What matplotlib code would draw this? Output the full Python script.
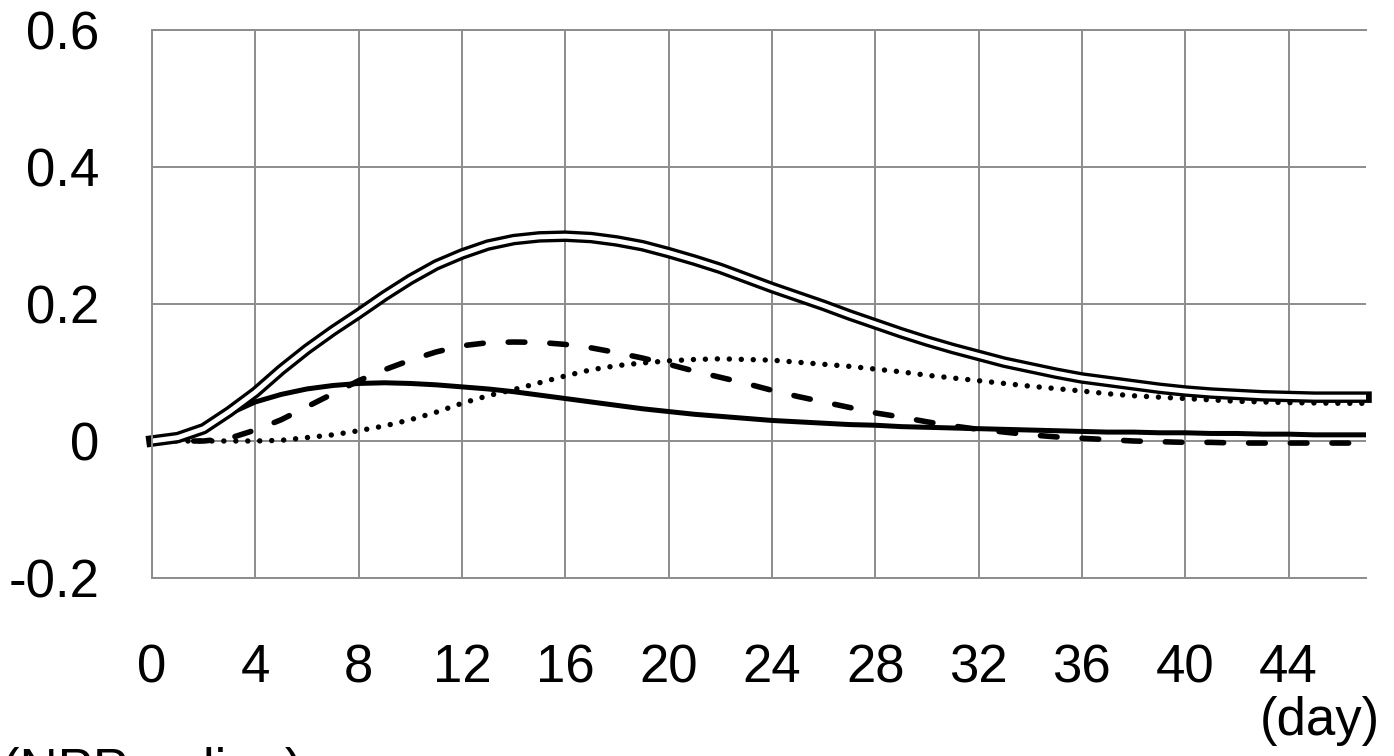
import matplotlib
matplotlib.use("Agg")
import matplotlib.pyplot as plt
import numpy as np

plt.rcParams['font.family'] = ['Liberation Sans', 'DejaVu Sans']

days = list(range(48))

npp_double = [0.000, 0.005, 0.018, 0.043, 0.071, 0.104, 0.134, 0.161, 0.186, 0.212,
              0.236, 0.257, 0.273, 0.286, 0.294, 0.298, 0.299, 0.297, 0.292, 0.285,
              0.275, 0.264, 0.252, 0.238, 0.224, 0.211, 0.198, 0.184, 0.171, 0.158,
              0.146, 0.135, 0.125, 0.115, 0.107, 0.099, 0.092, 0.087, 0.082, 0.077,
              0.073, 0.070, 0.068, 0.066, 0.065, 0.064, 0.064, 0.064]

solid = [-0.003, 0.004, 0.019, 0.040, 0.057, 0.068, 0.076, 0.081, 0.084, 0.085,
         0.084, 0.082, 0.079, 0.076, 0.072, 0.067, 0.062, 0.057, 0.052, 0.047,
         0.043, 0.039, 0.036, 0.033, 0.030, 0.028, 0.026, 0.024, 0.023, 0.021,
         0.020, 0.019, 0.018, 0.017, 0.016, 0.015, 0.014, 0.013, 0.013, 0.012,
         0.012, 0.011, 0.011, 0.010, 0.010, 0.009, 0.009, 0.009]

dashed = [0.000, 0.000, 0.000, 0.004, 0.016, 0.031, 0.050, 0.069, 0.088, 0.104,
          0.118, 0.130, 0.139, 0.1435, 0.1445, 0.144, 0.141, 0.136, 0.129, 0.121,
          0.112, 0.102, 0.093, 0.084, 0.074, 0.065, 0.057, 0.049, 0.041, 0.035,
          0.028, 0.022, 0.017, 0.013, 0.009, 0.006, 0.004, 0.002, 0.000, -0.001,
          -0.002, -0.002, -0.003, -0.003, -0.003, -0.003, -0.003, -0.003]

dotted = [0.000, 0.000, 0.000, 0.000, 0.000, 0.001, 0.005, 0.009, 0.015, 0.022,
          0.031, 0.042, 0.055, 0.066, 0.075, 0.085, 0.095, 0.104, 0.110, 0.114,
          0.117, 0.119, 0.120, 0.119, 0.118, 0.115, 0.112, 0.109, 0.105, 0.101,
          0.096, 0.092, 0.088, 0.084, 0.080, 0.0765, 0.073, 0.069, 0.066, 0.064,
          0.062, 0.060, 0.058, 0.057, 0.056, 0.0555, 0.055, 0.055]

xticks = list(range(0, 48, 4))
yticks = [-0.2, 0, 0.2, 0.4, 0.6]
ytick_labels = ['-0.2', '0', '0.2', '0.4', '0.6']

fig = plt.figure(figsize=(13.94, 7.56), dpi=100)
ax = fig.add_axes([152/1394, 1 - 578/756, 1214/1394, 548/756])

grid_c = '#8c8c8c'
ax.set_xlim(0, 47)
ax.set_ylim(-0.2, 0.6)
ax.set_xticks(xticks)
ax.set_xticklabels([str(t) for t in xticks])
ax.set_yticks(yticks)
ax.set_yticklabels(ytick_labels)
ax.grid(True, color=grid_c, linewidth=1.4)
ax.set_axisbelow(True)
ax.spines['right'].set_visible(False)
for s in ['top', 'left', 'bottom']:
    ax.spines[s].set_color(grid_c)
    ax.spines[s].set_linewidth(1.4)
ax.tick_params(axis='both', length=0, labelsize=38, colors='black')
ax.tick_params(axis='x', pad=47)
ax.tick_params(axis='y', pad=38)

ax.plot(days, dotted, color='black', linewidth=3.9, linestyle=(0, (0.01, 2.2)),
        dash_capstyle='round', solid_capstyle='round')
ax.plot(days, dashed, color='black', linewidth=4.0, linestyle=(0, (3.0, 4.5)),
        dash_capstyle='round')
ax.plot(days, solid, color='black', linewidth=3.6, solid_capstyle='butt',
        solid_joinstyle='round')
ax.plot(days, npp_double, color='black', linewidth=8.3, solid_capstyle='projecting',
        solid_joinstyle='round', clip_on=False)
ax.plot(days, npp_double, color='white', linewidth=3.5, solid_capstyle='butt',
        solid_joinstyle='round', clip_on=False)

fig.text(1380/1394, 1 - 735/756, '(day)', fontsize=38, ha='right', va='baseline')
fig.text(2/1394, 1 - 786/756, '(NPP: = line)', fontsize=38, ha='left', va='baseline')

fig.savefig('out.png', dpi=100)
